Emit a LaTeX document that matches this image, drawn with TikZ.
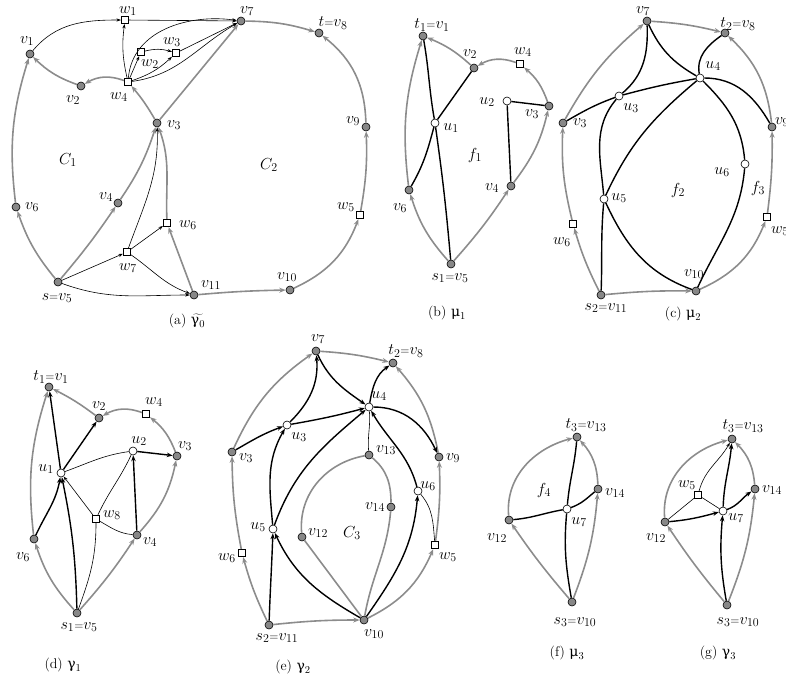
\RequirePackage{fix-cm}
\documentclass[tikz,border=0pt]{standalone}
\usepackage{fontspec}
\newfontfamily\grk{DejaVu Serif}
\usetikzlibrary{arrows.meta}
\DeclareMathSizes{16}{16}{12}{9}
\DeclareMathSizes{14}{14}{10.5}{8}
\newcommand\eqs{{\scriptstyle=}}
\definecolor{gfill}{RGB}{135,135,135}
\definecolor{gedge}{RGB}{140,140,140}
\begin{document}
\begin{tikzpicture}[x=1pt,y=1pt,
  vtx/.style={circle,draw=black,fill=gfill,minimum size=8pt,inner sep=0pt,line width=0.6pt},
  uvt/.style={circle,draw=black,fill=white,minimum size=8pt,inner sep=0pt,line width=0.6pt},
  wvt/.style={rectangle,draw=black,fill=white,minimum size=7.5pt,inner sep=0pt,line width=0.6pt},
  ge/.style={draw=gedge,line width=1.6pt,-{Stealth[length=6.5pt,width=5pt]}},
  gl/.style={draw=gedge,line width=1.6pt},
  te/.style={draw=black,line width=0.6pt,-{Stealth[length=4.5pt,width=3.2pt]}},
  tl/.style={draw=black,line width=0.6pt},
  ke/.style={draw=black,line width=1.4pt,-{Stealth[length=6pt,width=4.5pt]}},
  kl/.style={draw=black,line width=1.4pt},
  lbl/.style={inner sep=0pt,font=\fontsize{16}{18}\selectfont},
  captxt/.style={inner sep=0pt,font=\fontsize{14}{16}\selectfont}]
\useasboundingbox (0,0) rectangle (786,-675);

% ---------------- panel (a) ----------------
\node[vtx] (a1) at (30,-54) {};
\node[vtx] (a2) at (81,-86) {};
\node[vtx] (a3) at (157,-123) {};
\node[vtx] (a4) at (118,-203) {};
\node[vtx] (a5) at (58,-282) {};
\node[vtx] (a6) at (16,-207) {};
\node[vtx] (a7) at (241,-21) {};
\node[vtx] (a8) at (319,-33) {};
\node[vtx] (a9) at (366,-127) {};
\node[vtx] (a10) at (290,-290) {};
\node[vtx] (a11) at (194,-295) {};
\node[wvt] (aw1) at (125,-20) {};
\node[wvt] (aw2) at (141,-52) {};
\node[wvt] (aw3) at (176,-53) {};
\node[wvt] (aw4) at (128,-82) {};
\node[wvt] (aw5) at (360,-215) {};
\node[wvt] (aw6) at (167,-223) {};
\node[wvt] (aw7) at (127,-252) {};

\draw[ge] (a5) to[bend left=10] (a6);
\draw[ge] (a6) to[bend left=12] (a1);
\draw[ge] (a2) to[bend left=12] (a1);
\draw[ge] (aw4) to[bend right=25] (a2);
\draw[ge] (a3) to[bend right=5] (aw4);
\draw[ge] (a3) -- (a7);
\draw[ge] (a5) to[bend right=3] (a4);
\draw[ge] (a4) to[bend right=8] (a3);
\draw[ge] (aw6) to[out=92,in=-70] (a3);
\draw[ge] (a11) -- (aw6);
\draw[ge] (a11) to[bend left=2] (a10);
\draw[ge] (a10) to[bend right=22] (aw5);
\draw[ge] (aw5) to[bend right=6] (a9);
\draw[ge] (a9) to[bend right=25] (a8);
\draw[ge] (a7) to[bend left=8] (a8);

\draw[te] (a1) to[out=50,in=180] (aw1);
\draw[te] (aw1) -- (a7);
\draw[te] (aw4) to[bend left=10] (aw1);
\draw[te] (aw4) to[out=85,in=172] (a7);
\draw[te] (aw4) -- (aw2);
\draw[te] (aw2) to[bend left=15] (aw3);
\draw[te] (aw4) to[bend right=12] (aw3);
\draw[te] (aw3) -- (a7);
\draw[te] (aw4) to[out=8,in=-150] (a7);
\draw[te] (a5) -- (aw7);
\draw[te] (aw7) -- (aw6);
\draw[te] (aw7) to[out=70,in=-88] (a3);
\draw[te] (aw7) to[out=-35,in=160] (a11);
\draw[te] (a5) to[out=-20,in=180] (a11);

\node[lbl] (la1) at (27,-41) {$v_1$};
\node[lbl] (la2) at (73,-100) {$v_2$};
\node[lbl] (law4) at (119,-97) {$w_4$};
\node[lbl] (law1) at (128,-11) {$w_1$};
\node[lbl] (la7) at (247,-11) {$v_7$};
\node[lbl] (law3) at (172,-42) {$w_3$};
\node[lbl] (law2) at (150,-64) {$w_2$};
\node[lbl] (la3) at (174,-125) {$v_3$};
\node[lbl] (lc1) at (68,-160) {$C_1$};
\node[lbl] (la4) at (106,-197) {$v_4$};
\node[lbl] (la6) at (32,-207) {$v_6$};
\node[lbl] (law6) at (188,-225) {$w_6$};
\node[lbl] (law7) at (128,-268) {$w_7$};
\node[lbl] (la5) at (57,-298) {$s\eqs v_5$};
\node[lbl] (la11) at (211,-285) {$v_{11}$};
\node[lbl] (la10) at (287,-277) {$v_{10}$};
\node[lbl] (law5) at (346,-207) {$w_5$};
\node[lbl] (la9) at (353,-121) {$v_9$};
\node[lbl] (la8) at (333,-23) {$t\eqs v_8$};
\node[lbl] (lc2) at (269,-165) {$C_2$};
\node[captxt] (capa) at (187,-321) {(a) $\widetilde{\mbox{\grk γ}_0}$};

% ---------------- panel (b) ----------------
\node[vtx] (b1) at (423,-36) {};
\node[vtx] (b2) at (474,-68) {};
\node[wvt] (bw4) at (520,-64) {};
\node[uvt] (bu2) at (507,-101) {};
\node[vtx] (b3) at (549,-106) {};
\node[uvt] (bu1) at (435,-123) {};
\node[vtx] (b4) at (511,-186) {};
\node[vtx] (b6) at (409,-190) {};
\node[vtx] (b5) at (451,-264) {};

\draw[ge] (b5) to[bend left=12] (b6);
\draw[ge] (b6) to[bend left=12] (b1);
\draw[ge] (b2) to[bend right=10] (b1);
\draw[ge] (bw4) to[bend right=25] (b2);
\draw[ge] (b3) to[bend right=15] (bw4);
\draw[ge] (b5) to[bend right=4] (b4);
\draw[ge] (b4) to[bend right=12] (b3);
\draw[kl] (b1) to[out=-80,in=100] (bu1) to[out=-82,in=95] (b5);
\draw[kl] (b2) -- (bu1) to[out=-105,in=60] (b6);
\draw[kl] (bu2) -- (b3);
\draw[kl] (bu2) -- (b4);

\node[lbl] (lb1) at (432,-25) {$t_1\eqs v_1$};
\node[lbl] (lb2) at (470,-54) {$v_2$};
\node[lbl] (lbw4) at (523,-52) {$w_4$};
\node[lbl] (lbu2) at (487,-102) {$u_2$};
\node[lbl] (lb3) at (532,-114) {$v_3$};
\node[lbl] (lbu1) at (451,-128) {$u_1$};
\node[lbl] (lf1) at (475,-155) {$f_1$};
\node[lbl] (lb4) at (492,-188) {$v_4$};
\node[lbl] (lb6) at (400,-208) {$v_6$};
\node[lbl] (lb5) at (450,-278) {$s_1\eqs v_5$};
\node[captxt] (capb) at (447,-313) {(b) $\mbox{\grk μ}_1$};

% ---------------- panel (c) ----------------
\node[vtx] (c7) at (647,-21) {};
\node[vtx] (c8) at (725,-33) {};
\node[uvt] (cu4) at (700,-78) {};
\node[uvt] (cu3) at (619,-96) {};
\node[vtx] (c3) at (563,-123) {};
\node[vtx] (c9) at (772,-127) {};
\node[uvt] (cu6) at (745,-164) {};
\node[uvt] (cu5) at (604,-199) {};
\node[wvt] (cw6) at (573,-224) {};
\node[wvt] (cw5) at (767,-217) {};
\node[vtx] (c10) at (696,-291) {};
\node[vtx] (c11) at (601,-295) {};

\draw[ge] (c11) to[bend left=5] (cw6);
\draw[ge] (cw6) to[bend left=8] (c3);
\draw[ge] (c3) to[bend left=10] (c7);
\draw[ge] (c7) to[bend left=5] (c8);
\draw[ge] (c9) to[bend right=20] (c8);
\draw[ge] (cw5) to[bend right=4] (c9);
\draw[ge] (c10) to[bend right=22] (cw5);
\draw[ge] (c11) to[bend left=3] (c10);
\draw[kl] (c7) to[out=-88,in=40] (cu3) to[out=-130,in=95] (cu5) to[out=-95,in=88] (c11);
\draw[kl] (c3) to[out=30,in=200] (cu3) to[out=15,in=190] (cu4);
\draw[kl] (c7) to[out=-65,in=150] (cu4);
\draw[kl] (cu4) to[out=100,in=-145] (c8);
\draw[kl] (cu4) to[out=0,in=120] (c9);
\draw[kl] (cu4) to[out=-140,in=65] (cu5) to[out=-65,in=160] (c10);
\draw[kl] (cu4) to[out=-45,in=95] (cu6) to[out=-95,in=65] (c10);

\node[lbl] (lc7) at (643,-11) {$v_7$};
\node[lbl] (lc8) at (738,-24) {$t_2\eqs v_8$};
\node[lbl] (lcu4) at (713,-66) {$u_4$};
\node[lbl] (lcu3) at (631,-108) {$u_3$};
\node[lbl] (lc3) at (580,-123) {$v_3$};
\node[lbl] (lc9) at (782,-122) {$v_9$};
\node[lbl] (lcu6) at (722,-172) {$u_6$};
\node[lbl] (lf2) at (678,-190) {$f_2$};
\node[lbl] (lf3) at (758,-188) {$f_3$};
\node[lbl] (lcu5) at (619,-198) {$u_5$};
\node[lbl] (lcw6) at (562,-242) {$w_6$};
\node[lbl] (lcw5) at (780,-231) {$w_5$};
\node[lbl] (lc10) at (694,-274) {$v_{10}$};
\node[lbl] (lc11) at (606,-308) {$s_2\eqs v_{11}$};
\node[captxt] (capc) at (683,-314) {(c) $\mbox{\grk μ}_2$};

% ---------------- panel (d) ----------------
\node[vtx] (d1) at (49,-387) {};
\node[vtx] (d2) at (99,-418) {};
\node[wvt] (dw4) at (146,-414) {};
\node[uvt] (du2) at (133,-451) {};
\node[vtx] (d3) at (177,-456) {};
\node[uvt] (du1) at (61,-473) {};
\node[wvt] (dw8) at (96,-519) {};
\node[vtx] (d4) at (137,-535) {};
\node[vtx] (d6) at (34,-539) {};
\node[vtx] (d5) at (77,-613) {};

\draw[ge] (d5) to[bend left=12] (d6);
\draw[ge] (d6) to[bend left=12] (d1);
\draw[ge] (d2) to[bend right=5] (d1);
\draw[ge] (dw4) to[bend right=25] (d2);
\draw[ge] (d3) to[bend right=15] (dw4);
\draw[ge] (d5) to[bend right=4] (d4);
\draw[ge] (d4) to[bend right=15] (d3);
\draw[ke] (du1) -- (d1);
\draw[ke] (du1) -- (d2);
\draw[ke] (d6) to[out=65,in=-100] (du1);
\draw[ke] (d5) to[bend right=5] (du1);
\draw[ke] (du2) -- (d3);
\draw[ke] (d4) -- (du2);
\draw[tl] (du1) to[out=20,in=188] (du2);
\draw[te] (dw8) -- (du1);
\draw[tl] (dw8) to[out=65,in=-115] (du2);
\draw[tl] (dw8) to[out=-30,in=175] (d4);
\draw[tl] (d5) to[out=70,in=-90] (dw8);

\node[lbl] (ld1) at (51,-377) {$t_1\eqs v_1$};
\node[lbl] (ld2) at (99,-406) {$v_2$};
\node[lbl] (ldw4) at (154,-402) {$w_4$};
\node[lbl] (ldu2) at (139,-441) {$u_2$};
\node[lbl] (ld3) at (185,-446) {$v_3$};
\node[lbl] (ldu1) at (46,-469) {$u_1$};
\node[lbl] (ldw8) at (112,-515) {$w_8$};
\node[lbl] (ld4) at (150,-542) {$v_4$};
\node[lbl] (ld6) at (23,-557) {$v_6$};
\node[lbl] (ld5) at (79,-627) {$s_1\eqs v_5$};
\node[captxt] (capd) at (63,-665) {(d) $\mbox{\grk γ}_1$};

% ---------------- panel (e) ----------------
\node[vtx] (e7) at (316,-351) {};
\node[vtx] (e8) at (393,-363) {};
\node[uvt] (eu4) at (369,-407) {};
\node[uvt] (eu3) at (287,-425) {};
\node[vtx] (e3) at (232,-452) {};
\node[vtx] (e13) at (369,-455) {};
\node[vtx] (e9) at (439,-457) {};
\node[uvt] (eu6) at (418,-491) {};
\node[vtx] (e14) at (391,-507) {};
\node[uvt] (eu5) at (273,-529) {};
\node[vtx] (e12) at (302,-537) {};
\node[wvt] (ew6) at (242,-553) {};
\node[wvt] (ew5) at (435,-545) {};
\node[vtx] (e10) at (364,-620) {};
\node[vtx] (e11) at (269,-625) {};

\draw[ge] (e11) to[bend left=5] (ew6);
\draw[ge] (ew6) to[bend left=5] (e3);
\draw[ge] (e3) to[bend left=15] (e7);
\draw[ge] (e7) to[bend left=5] (e8);
\draw[ge] (e9) to[bend right=15] (e8);
\draw[ge] (ew5) to[bend right=5] (e9);
\draw[ge] (e10) to[bend right=20] (ew5);
\draw[ge] (e11) to[bend left=3] (e10);
\draw[gl] (e13) to[out=-170,in=95] (e12);
\draw[gl] (e13) to[out=-40,in=90] (e14);
\draw[gl] (e12) -- (e10);
\draw[gl] (e14) to[out=-95,in=80] (e10);
\draw[ke] (e3) to[out=30,in=200] (eu3);
\draw[ke] (eu3) to[out=45,in=-85] (e7);
\draw[ke] (e7) to[out=-65,in=145] (eu4);
\draw[ke] (eu3) to[out=10,in=195] (eu4);
\draw[ke] (eu5) to[out=95,in=-120] (eu3);
\draw[ke] (eu5) to[out=70,in=-140] (eu4);
\draw[ke] (e11) to[out=88,in=-92] (eu5);
\draw[ke] (e10) to[out=150,in=-65] (eu5);
\draw[ke] (e10) to[out=55,in=-95] (eu6);
\draw[ke] (eu6) to[out=105,in=-60] (eu4);
\draw[ke] (eu4) to[out=80,in=-145] (e8);
\draw[ke] (eu4) to[out=0,in=115] (e9);
\draw[tl] (e13) to[out=95,in=-85] (eu4);
\draw[tl] (eu6) to[out=-50,in=95] (ew5);

\node[lbl] (le7) at (318,-339) {$v_7$};
\node[lbl] (le8) at (406,-351) {$t_2\eqs v_8$};
\node[lbl] (leu4) at (379,-396) {$u_4$};
\node[lbl] (leu3) at (299,-437) {$u_3$};
\node[lbl] (le3) at (246,-458) {$v_3$};
\node[lbl] (le13) at (386,-450) {$v_{13}$};
\node[lbl] (le9) at (453,-458) {$v_9$};
\node[lbl] (leu6) at (428,-486) {$u_6$};
\node[lbl] (le14) at (375,-507) {$v_{14}$};
\node[lbl] (leu5) at (258,-527) {$u_5$};
\node[lbl] (le12) at (318,-533) {$v_{12}$};
\node[lbl] (lc3l) at (352,-533) {$C_3$};
\node[lbl] (lew6) at (227,-558) {$w_6$};
\node[lbl] (lew5) at (448,-557) {$w_5$};
\node[lbl] (le10) at (374,-634) {$v_{10}$};
\node[lbl] (le11) at (277,-638) {$s_2\eqs v_{11}$};
\node[captxt] (cape) at (293,-667) {(e) $\mbox{\grk γ}_2$};

% ---------------- panel (f) ----------------
\node[vtx] (f13) at (577,-437) {};
\node[vtx] (f14) at (598,-489) {};
\node[uvt] (fu7) at (567,-509) {};
\node[vtx] (f12) at (509,-520) {};
\node[vtx] (f10) at (572,-602) {};

\draw[ge] (f12) to[out=95,in=195] (f13);
\draw[ge] (f14) to[bend right=20] (f13);
\draw[ge] (f10) to[bend left=3] (f12);
\draw[ge] (f10) to[bend right=8] (f14);
\draw[kl] (f13) to[out=-95,in=85] (fu7) to[out=-95,in=100] (f10);
\draw[kl] (f12) to[out=5,in=190] (fu7) to[out=20,in=-140] (f14);

\node[lbl] (lf13) at (586,-425) {$t_3\eqs v_{13}$};
\node[lbl] (lf4) at (544,-490) {$f_4$};
\node[lbl] (lf14) at (615,-493) {$v_{14}$};
\node[lbl] (lfu7) at (579,-522) {$u_7$};
\node[lbl] (lf12) at (497,-538) {$v_{12}$};
\node[lbl] (lf10) at (575,-622) {$s_3\eqs v_{10}$};
\node[captxt] (capf) at (567,-653) {(f) $\mbox{\grk μ}_3$};

% ---------------- panel (g) ----------------
\node[vtx] (g13) at (732,-439) {};
\node[wvt] (gw5) at (698,-495) {};
\node[vtx] (g14) at (755,-489) {};
\node[uvt] (gu7) at (723,-511) {};
\node[vtx] (g12) at (665,-522) {};
\node[vtx] (g10) at (727,-605) {};

\draw[ge] (g12) to[out=95,in=195] (g13);
\draw[ge] (g14) to[bend right=20] (g13);
\draw[ge] (g10) to[bend left=3] (g12);
\draw[ge] (g10) to[bend right=8] (g14);
\draw[ke] (g10) to[out=100,in=-95] (gu7);
\draw[ke] (gu7) to[out=88,in=-95] (g13);
\draw[ke] (g12) to[out=5,in=195] (gu7);
\draw[ke] (gu7) to[out=20,in=-145] (g14);
\draw[tl] (g12) -- (gw5);
\draw[tl] (gw5) -- (gu7);
\draw[te] (gw5) to[out=75,in=-120] (g13);

\node[lbl] (lg13) at (743,-426) {$t_3\eqs v_{13}$};
\node[lbl] (lgw5) at (687,-485) {$w_5$};
\node[lbl] (lg14) at (772,-490) {$v_{14}$};
\node[lbl] (lgu7) at (736,-518) {$u_7$};
\node[lbl] (lg12) at (656,-538) {$v_{12}$};
\node[lbl] (lg10) at (738,-622) {$s_3\eqs v_{10}$};
\node[captxt] (capg) at (718,-653) {(g) $\mbox{\grk γ}_3$};
\end{tikzpicture}
\end{document}
